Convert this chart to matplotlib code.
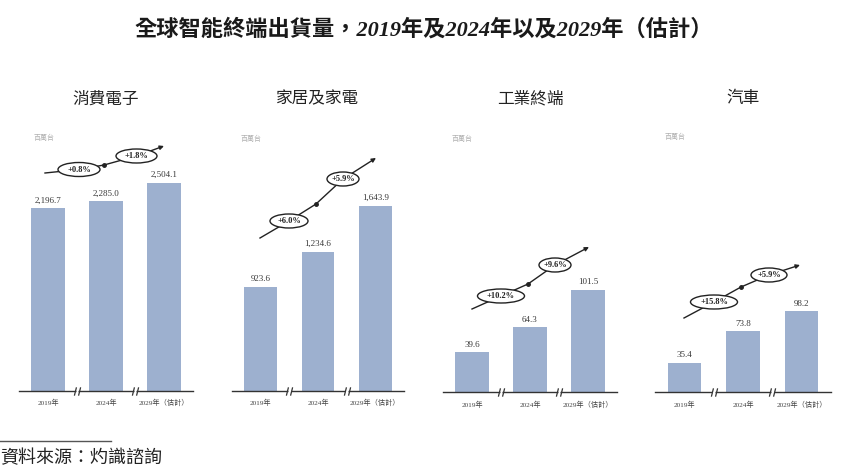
import matplotlib
matplotlib.use("Agg")
import matplotlib.pyplot as plt
import matplotlib.transforms as mtransforms
from matplotlib.patches import Ellipse, FancyArrowPatch
from matplotlib.lines import Line2D
from matplotlib.path import Path

# ---- data -------------------------------------------------------------
segments = ["消費電子", "家居及家電", "工業終端", "汽車"]
years = ["2019年", "2024年", "2029年（估計）"]
consumer_electronics = [2196.7, 2285.0, 2504.1]
home_appliances = [923.6, 1234.6, 1643.9]
industrial_terminals = [39.6, 64.3, 101.5]
automotive = [35.4, 73.8, 98.2]
cagr_2019_2024 = ["+0.8%", "+6.0%", "+10.2%", "+15.8%"]
cagr_2024_2029 = ["+1.8%", "+5.9%", "+9.6%", "+5.9%"]
unit_label = "百萬台"
title = "全球智能終端出貨量，2019年及2024年以及2029年（估計）"
source = "資料來源：灼識諮詢"

series = [consumer_electronics, home_appliances, industrial_terminals, automotive]

# ---- layout / style ---------------------------------------------------
W, H = 844, 470
BAR_COLOR = "#9db0cf"
SERIF_CJK = ["Liberation Serif", "Noto Sans CJK TC"]
SANS_CJK = ["Noto Sans CJK TC", "DejaVu Sans"]

fig = plt.figure(figsize=(W / 100, H / 100), dpi=100)
# pixel coordinates measured from the top-left corner of the figure
px = mtransforms.Affine2D().scale(1 / W, -1 / H).translate(0, 1) + fig.transFigure

# (left, right, baseline) of each panel in pixels, top of plotting area
panel_box = [(19, 193, 390.5), (232, 404, 390.5), (443, 617, 392), (655, 831, 392)]
axes_top = 110
y_top = [3380, 2493, 280, 342]
unit_pos = [(34, 138), (241, 139), (452, 139), (665, 137)]

# growth-arrow geometry per panel: start, ellipse1, dot, ellipse2, tip, ellipse widths
arrow_geom = [
    dict(start=(45, 173), e1=(79, 169.5), dot=(104, 165), e2=(136.5, 156), tip=(164, 146), w=(42, 41)),
    dict(start=(260, 238), e1=(289, 221), dot=(316, 204), e2=(343, 179), tip=(376, 158), w=(38, 32)),
    dict(start=(472, 309), e1=(501, 296), dot=(528, 284), e2=(555, 265), tip=(589, 247), w=(47, 32)),
    dict(start=(684, 318), e1=(714, 302), dot=(741, 287), e2=(769, 275), tip=(800, 265), w=(47, 36)),
]

slash_marker = Path([(-1.5, -2), (-0.5, 2), (0.5, -2), (1.5, 2)],
                    [Path.MOVETO, Path.LINETO, Path.MOVETO, Path.LINETO])

for i, values in enumerate(series):
    left, right, base = panel_box[i]
    ax = fig.add_axes([left / W, 1 - base / H, (right - left) / W, (base - axes_top) / H])
    x = list(range(len(values)))
    bars = ax.bar(x, values, width=0.57, color=BAR_COLOR, zorder=2)
    ax.bar_label(bars, labels=[f"{v:,.1f}" for v in values], padding=2.5,
                 fontsize=6.5, family="Liberation Serif", color="#3a3a3a")
    ax.set_xlim(-0.5, 2.5)
    ax.set_ylim(0, y_top[i])
    ax.set_yticks([])
    ax.set_xticks(x, years)
    ax.tick_params(axis="x", length=0, pad=6, labelsize=5.2, labelcolor="#444444")
    for lbl in ax.get_xticklabels():
        lbl.set_fontfamily(SERIF_CJK)
    for side in ("top", "left", "right"):
        ax.spines[side].set_visible(False)
    ax.spines["bottom"].set_color("#333333")
    ax.spines["bottom"].set_linewidth(1.0)
    ax.patch.set_alpha(0)

    # axis-break marks between the years
    xt = ax.get_xaxis_transform()
    for xb in (0.5, 1.5):
        ax.plot([xb - 0.022, xb + 0.022], [0, 0], color="white", lw=2.2,
                transform=xt, clip_on=False, zorder=4, solid_capstyle="butt")
        ax.plot([xb], [0], marker=slash_marker, markersize=6, markeredgewidth=0.9,
                color="#333333", transform=xt, clip_on=False, zorder=5)

    # panel heading and unit
    fig.text((left + right) / 2, 99, segments[i], transform=px, ha="center", va="center",
             fontsize=12, family=SANS_CJK, color="#222222")
    fig.text(unit_pos[i][0], unit_pos[i][1], unit_label, transform=px, ha="left",
             va="center", fontsize=5, family=SANS_CJK, color="#b0b0b0", style="italic")

    # growth arrow with CAGR ellipses
    g = arrow_geom[i]
    pts = [g["start"], g["e1"], g["dot"], g["e2"]]
    fig.add_artist(Line2D([p[0] for p in pts], [p[1] for p in pts], transform=px,
                          color="#222222", lw=1.0, zorder=3))
    fig.add_artist(FancyArrowPatch(g["e2"], g["tip"], transform=px, arrowstyle="-|>",
                                   mutation_scale=6, color="#222222", lw=1.0,
                                   shrinkA=0, shrinkB=0, zorder=3))
    fig.add_artist(Line2D([g["dot"][0]], [g["dot"][1]], transform=px, marker="o",
                          markersize=2.5, color="#222222", zorder=3))
    for center, width, label in ((g["e1"], g["w"][0], cagr_2019_2024[i]),
                                 (g["e2"], g["w"][1], cagr_2024_2029[i])):
        fig.add_artist(Ellipse(center, width, 14, transform=px, facecolor="white",
                               edgecolor="#222222", lw=1.0, zorder=4))
        fig.text(center[0], center[1], label, transform=px, ha="center", va="center",
                 fontsize=6, fontweight="bold", family="Liberation Serif",
                 color="#222222", zorder=5)

# chart title
fig.text(424, 30, title, transform=px, ha="center", va="center", fontsize=16,
         family=SERIF_CJK, style="italic", fontweight="bold", color="#1a1a1a")

# source note
fig.add_artist(Line2D([0, 111], [441, 441], transform=px, color="#555555", lw=1.0))
fig.text(0, 458, source, transform=px, ha="left", va="center", fontsize=13,
         family=SANS_CJK, color="#222222")

fig.savefig("out.png", dpi=100)
